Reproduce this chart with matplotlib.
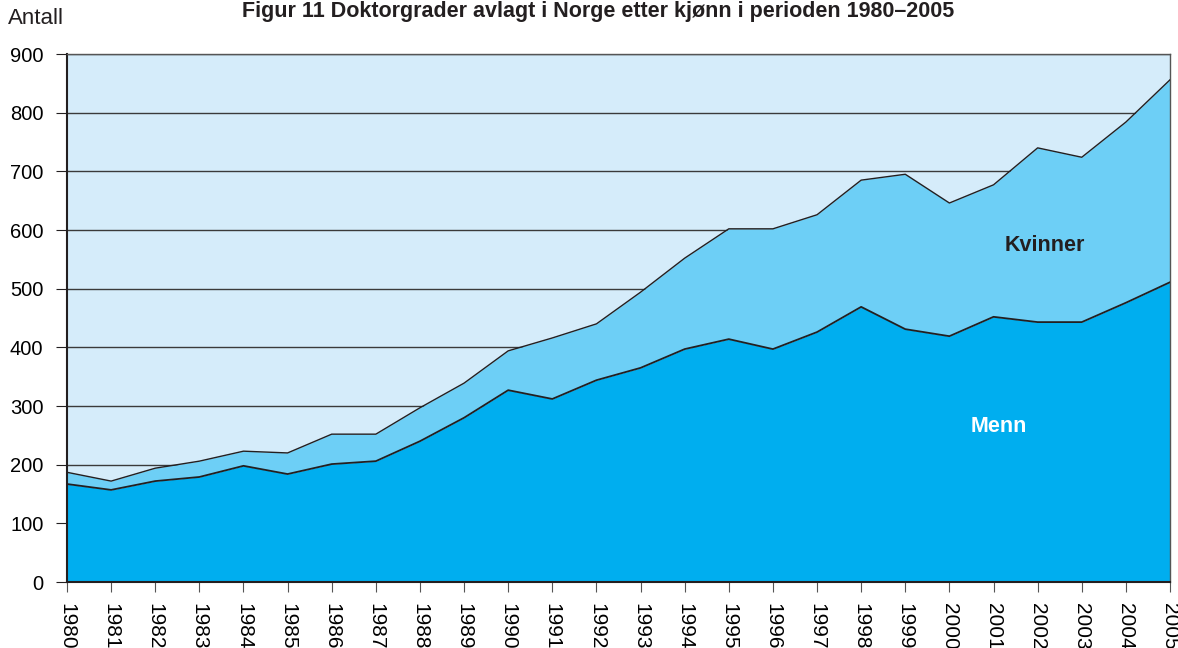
import matplotlib
matplotlib.use("Agg")
import matplotlib.pyplot as plt
import numpy as np

years = list(range(1980, 2006))
total = [187, 172, 194, 206, 223, 220, 252, 252, 297, 339, 394, 416, 440,
         494, 552, 602, 602, 626, 685, 695, 646, 677, 740, 724, 784, 856]
menn = [167, 157, 172, 179, 198, 184, 201, 206, 240, 280, 327, 312, 344,
        365, 397, 414, 397, 426, 469, 431, 419, 452, 443, 443, 476, 511]
kvinner = [t - m for t, m in zip(total, menn)]

plt.rcParams['font.family'] = ['Liberation Sans', 'DejaVu Sans']

fig = plt.figure(figsize=(11.78, 6.48), dpi=100)
ax = fig.add_axes([67/1178, 1 - 582/648, (1170-67)/1178, (582-54)/648])
ax.set_facecolor('#d5ecfa')

x = np.array(years)
m = np.array(menn)
k = np.array(kvinner)
ax.fill_between(x, 0, m, color='#00aeef', lw=0, zorder=2)
ax.fill_between(x, m, m + k, color='#6dcff6', lw=0, zorder=2)
ax.plot(x, m, color='#231f20', lw=1.3, zorder=3)
ax.plot(x, m + k, color='#231f20', lw=1.0, zorder=3)

ax.set_xlim(1980, 2005)
ax.set_ylim(0, 900)
ax.set_yticks(range(0, 901, 100))
ax.set_xticks(years)
ax.set_xticklabels([str(y) for y in years], rotation=270, fontsize=15)
ax.tick_params(axis='y', labelsize=14.5, length=8, pad=9, color='#231f20')
ax.tick_params(axis='x', length=7, pad=8, color='#555555')
ax.yaxis.grid(True, color='#3a3a3a', lw=1.0, zorder=1)
ax.set_axisbelow(True)
for s in ax.spines.values():
    s.set_color('#555555')
    s.set_linewidth(1.0)
ax.spines['left'].set_color('#231f20')
ax.spines['left'].set_linewidth(1.5)
ax.spines['bottom'].set_color('#231f20')
ax.spines['bottom'].set_linewidth(1.5)

ax.text(2002.17, 573, 'Kvinner', fontsize=15.5, fontweight='bold', color='#231f20',
        ha='center', va='center', zorder=4)
ax.text(2001.12, 265, 'Menn', fontsize=15.5, fontweight='bold', color='white',
        ha='center', va='center', zorder=4)

fig.text(8/1178, 1 - 18/648, 'Antall', fontsize=16, ha='left', va='center', color='#231f20')
fig.text(598/1178, 1 - 12/648, 'Figur 11 Doktorgrader avlagt i Norge etter kjønn i perioden 1980–2005',
         fontsize=15.5, fontweight='bold', ha='center', va='center', color='#231f20')

fig.savefig('out.png', dpi=100)
